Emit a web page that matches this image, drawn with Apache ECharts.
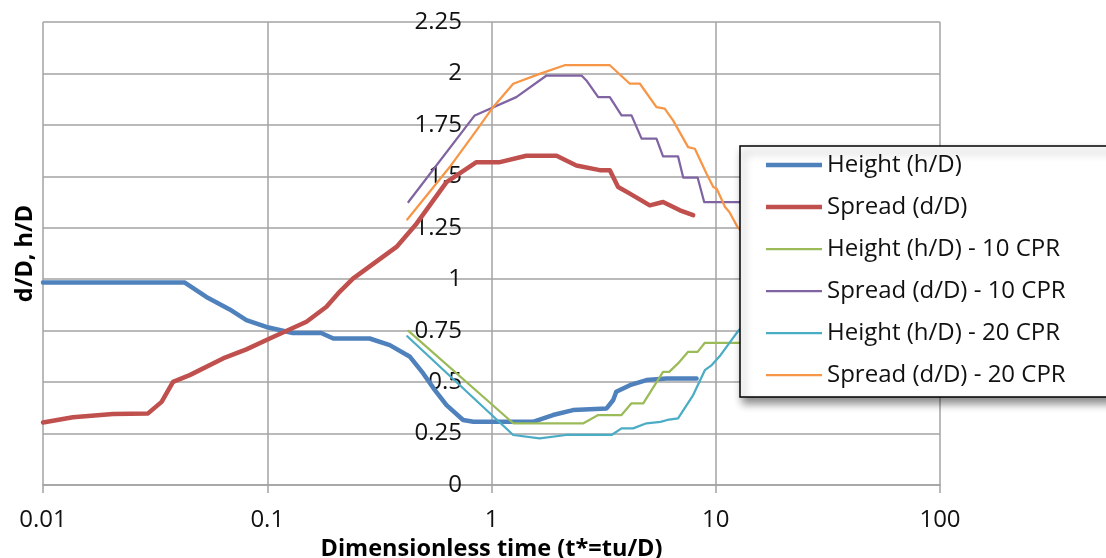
<!DOCTYPE html>
<html>
<head>
<meta charset="utf-8">
<script src="https://cdn.jsdelivr.net/npm/echarts@6/dist/echarts.min.js"></script>
<style>
html,body{margin:0;padding:0;background:#fff;}
#chart{width:1106px;height:558px;}
</style>
</head>
<body>
<div id="chart"></div>
<script>
// ---- data (t*, value) ----
const seriesNames = ['Height (h/D)', 'Spread (d/D)', 'Height (h/D) - 10 CPR', 'Spread (d/D) - 10 CPR', 'Height (h/D) - 20 CPR', 'Spread (d/D) - 20 CPR'];
const xTickLabels = ['0.01', '0.1', '1', '10', '100'];

const heightHD = [[0.01,0.984],[0.0429,0.984],[0.0535,0.914],[0.068,0.853],[0.0807,0.801],[0.099,0.768],[0.13,0.739],[0.174,0.739],[0.197,0.712],[0.286,0.712],[0.352,0.68],[0.433,0.623],[0.496,0.542],[0.559,0.461],[0.63,0.388],[0.747,0.316],[0.83,0.307],[1.53,0.307],[1.88,0.34],[2.31,0.364],[3.26,0.372],[3.49,0.413],[3.6,0.453],[4.14,0.485],[4.91,0.51],[6.03,0.518],[8.21,0.518]];
const spreadDD = [[0.01,0.304],[0.0136,0.329],[0.0205,0.345],[0.0294,0.348],[0.0338,0.404],[0.038,0.501],[0.0451,0.534],[0.0635,0.615],[0.0807,0.659],[0.1026,0.712],[0.1496,0.793],[0.1837,0.866],[0.207,0.931],[0.241,1.003],[0.377,1.157],[0.463,1.27],[0.63,1.472],[0.857,1.569],[1.09,1.569],[1.43,1.60],[1.95,1.60],[2.39,1.553],[3.04,1.53],[3.37,1.529],[3.67,1.448],[4.14,1.416],[5.08,1.359],[5.82,1.375],[6.92,1.335],[7.93,1.311]];
const height10 = [[0.426,0.749],[1.25,0.30],[2.57,0.30],[2.99,0.34],[3.8,0.34],[4.21,0.397],[4.75,0.397],[5.82,0.55],[6.2,0.55],[6.79,0.591],[7.53,0.647],[8.3,0.647],[8.94,0.691],[14,0.691]];
const spread10 = [[0.426,1.375],[0.842,1.796],[1.29,1.885],[1.76,1.99],[2.52,1.99],[2.65,1.966],[2.99,1.885],[3.37,1.885],[3.80,1.796],[4.21,1.796],[4.67,1.683],[5.44,1.683],[5.82,1.597],[6.79,1.597],[7.16,1.494],[8.3,1.494],[8.88,1.375],[14,1.375]];
const height20 = [[0.421,0.723],[1.25,0.243],[1.64,0.227],[2.15,0.243],[3.43,0.243],[3.8,0.275],[4.28,0.275],[4.91,0.3],[5.67,0.307],[6.08,0.316],[6.79,0.324],[7.93,0.437],[8.94,0.558],[9.6,0.583],[10.5,0.631],[12.5,0.744],[14,0.8]];
const spread20 = [[0.421,1.29],[0.651,1.545],[0.857,1.723],[1.016,1.836],[1.25,1.95],[1.64,1.998],[2.12,2.04],[3.37,2.04],[4.14,1.95],[4.59,1.95],[5.44,1.836],[5.92,1.829],[6.45,1.772],[7.53,1.642],[8.07,1.634],[9.1,1.513],[9.75,1.448],[10.1,1.44],[11,1.351],[11.5,1.327],[12.5,1.254],[14,1.2]];

const seriesData = [heightHD, spreadDD, height10, spread10, height20, spread20];
const colors = ['#4F81BD', '#C0504D', '#9BBB59', '#8064A2', '#4BACC6', '#F79646'];
const widths = [4.5, 4.5, 2.25, 2.25, 2.25, 2.25];

const FONT = '"Open Sans", "Noto Sans", sans-serif';
const gridColor = '#a3a3a3';

function barIcon(h) { return 'path://M0,0L56,0L56,' + h + 'L0,' + h + 'Z'; }

const chart = echarts.init(document.getElementById('chart'));
chart.setOption({
  animation: false,
  backgroundColor: '#ffffff',
  grid: { left: 43, right: 166, top: 22, bottom: 73, containLabel: false, outerBoundsMode: 'none' },
  xAxis: {
    type: 'log', logBase: 10, min: 0.01, max: 100,
    name: 'Dimensionless time (t*=tu/D)',
    nameLocation: 'middle', nameGap: 42,
    nameTextStyle: { fontFamily: FONT, fontWeight: 'bold', fontSize: 23.5, color: '#000' },
    axisLine: { show: true, lineStyle: { color: gridColor, width: 1.5 } },
    axisTick: { show: true, length: 8, lineStyle: { color: gridColor, width: 1.5 } },
    minorTick: { show: false },
    splitLine: { show: true, lineStyle: { color: gridColor, width: 1.5 } },
    axisLabel: {
      margin: 23, fontFamily: FONT, fontSize: 24, color: '#111',
      formatter: function (v) { const i = Math.round(Math.log10(v)) + 2; return xTickLabels[i] || ''; }
    }
  },
  yAxis: {
    type: 'value', min: 0, max: 2.25, interval: 0.25,
    offset: -448,
    name: 'd/D, h/D', nameLocation: 'middle', nameGap: 454, nameRotate: 90,
    nameTextStyle: { fontFamily: FONT, fontWeight: 'bold', fontSize: 23.5, color: '#000' },
    axisLine: { show: false },
    axisTick: { show: false },
    splitLine: { show: true, lineStyle: { color: gridColor, width: 1.5 } },
    axisLabel: { margin: 29, fontFamily: FONT, fontSize: 24, color: '#111' }
  },
  legend: {
    orient: 'vertical', left: 740, top: 146,
    selectedMode: false,
    backgroundColor: '#ffffff',
    borderColor: '#000', borderWidth: 1.5,
    shadowColor: 'rgba(0,0,0,0.45)', shadowBlur: 8, shadowOffsetX: 3, shadowOffsetY: 6,
    padding: [4, 80, 7, 26],
    itemWidth: 56, itemHeight: 14, itemGap: 12,
    textStyle: { fontFamily: FONT, fontSize: 24, color: '#111', lineHeight: 30 },
    data: seriesNames.map((n, i) => ({ name: n, icon: barIcon(widths[i]), itemStyle: { color: colors[i], borderWidth: 0 } }))
  },
  series: seriesNames.map((n, i) => ({
    name: n, type: 'line', data: seriesData[i],
    symbol: 'none', smooth: false,
    lineStyle: { color: colors[i], width: widths[i], join: 'round', cap: 'round' },
    itemStyle: { color: colors[i] },
    z: 2
  }))
});
</script>
</body>
</html>
